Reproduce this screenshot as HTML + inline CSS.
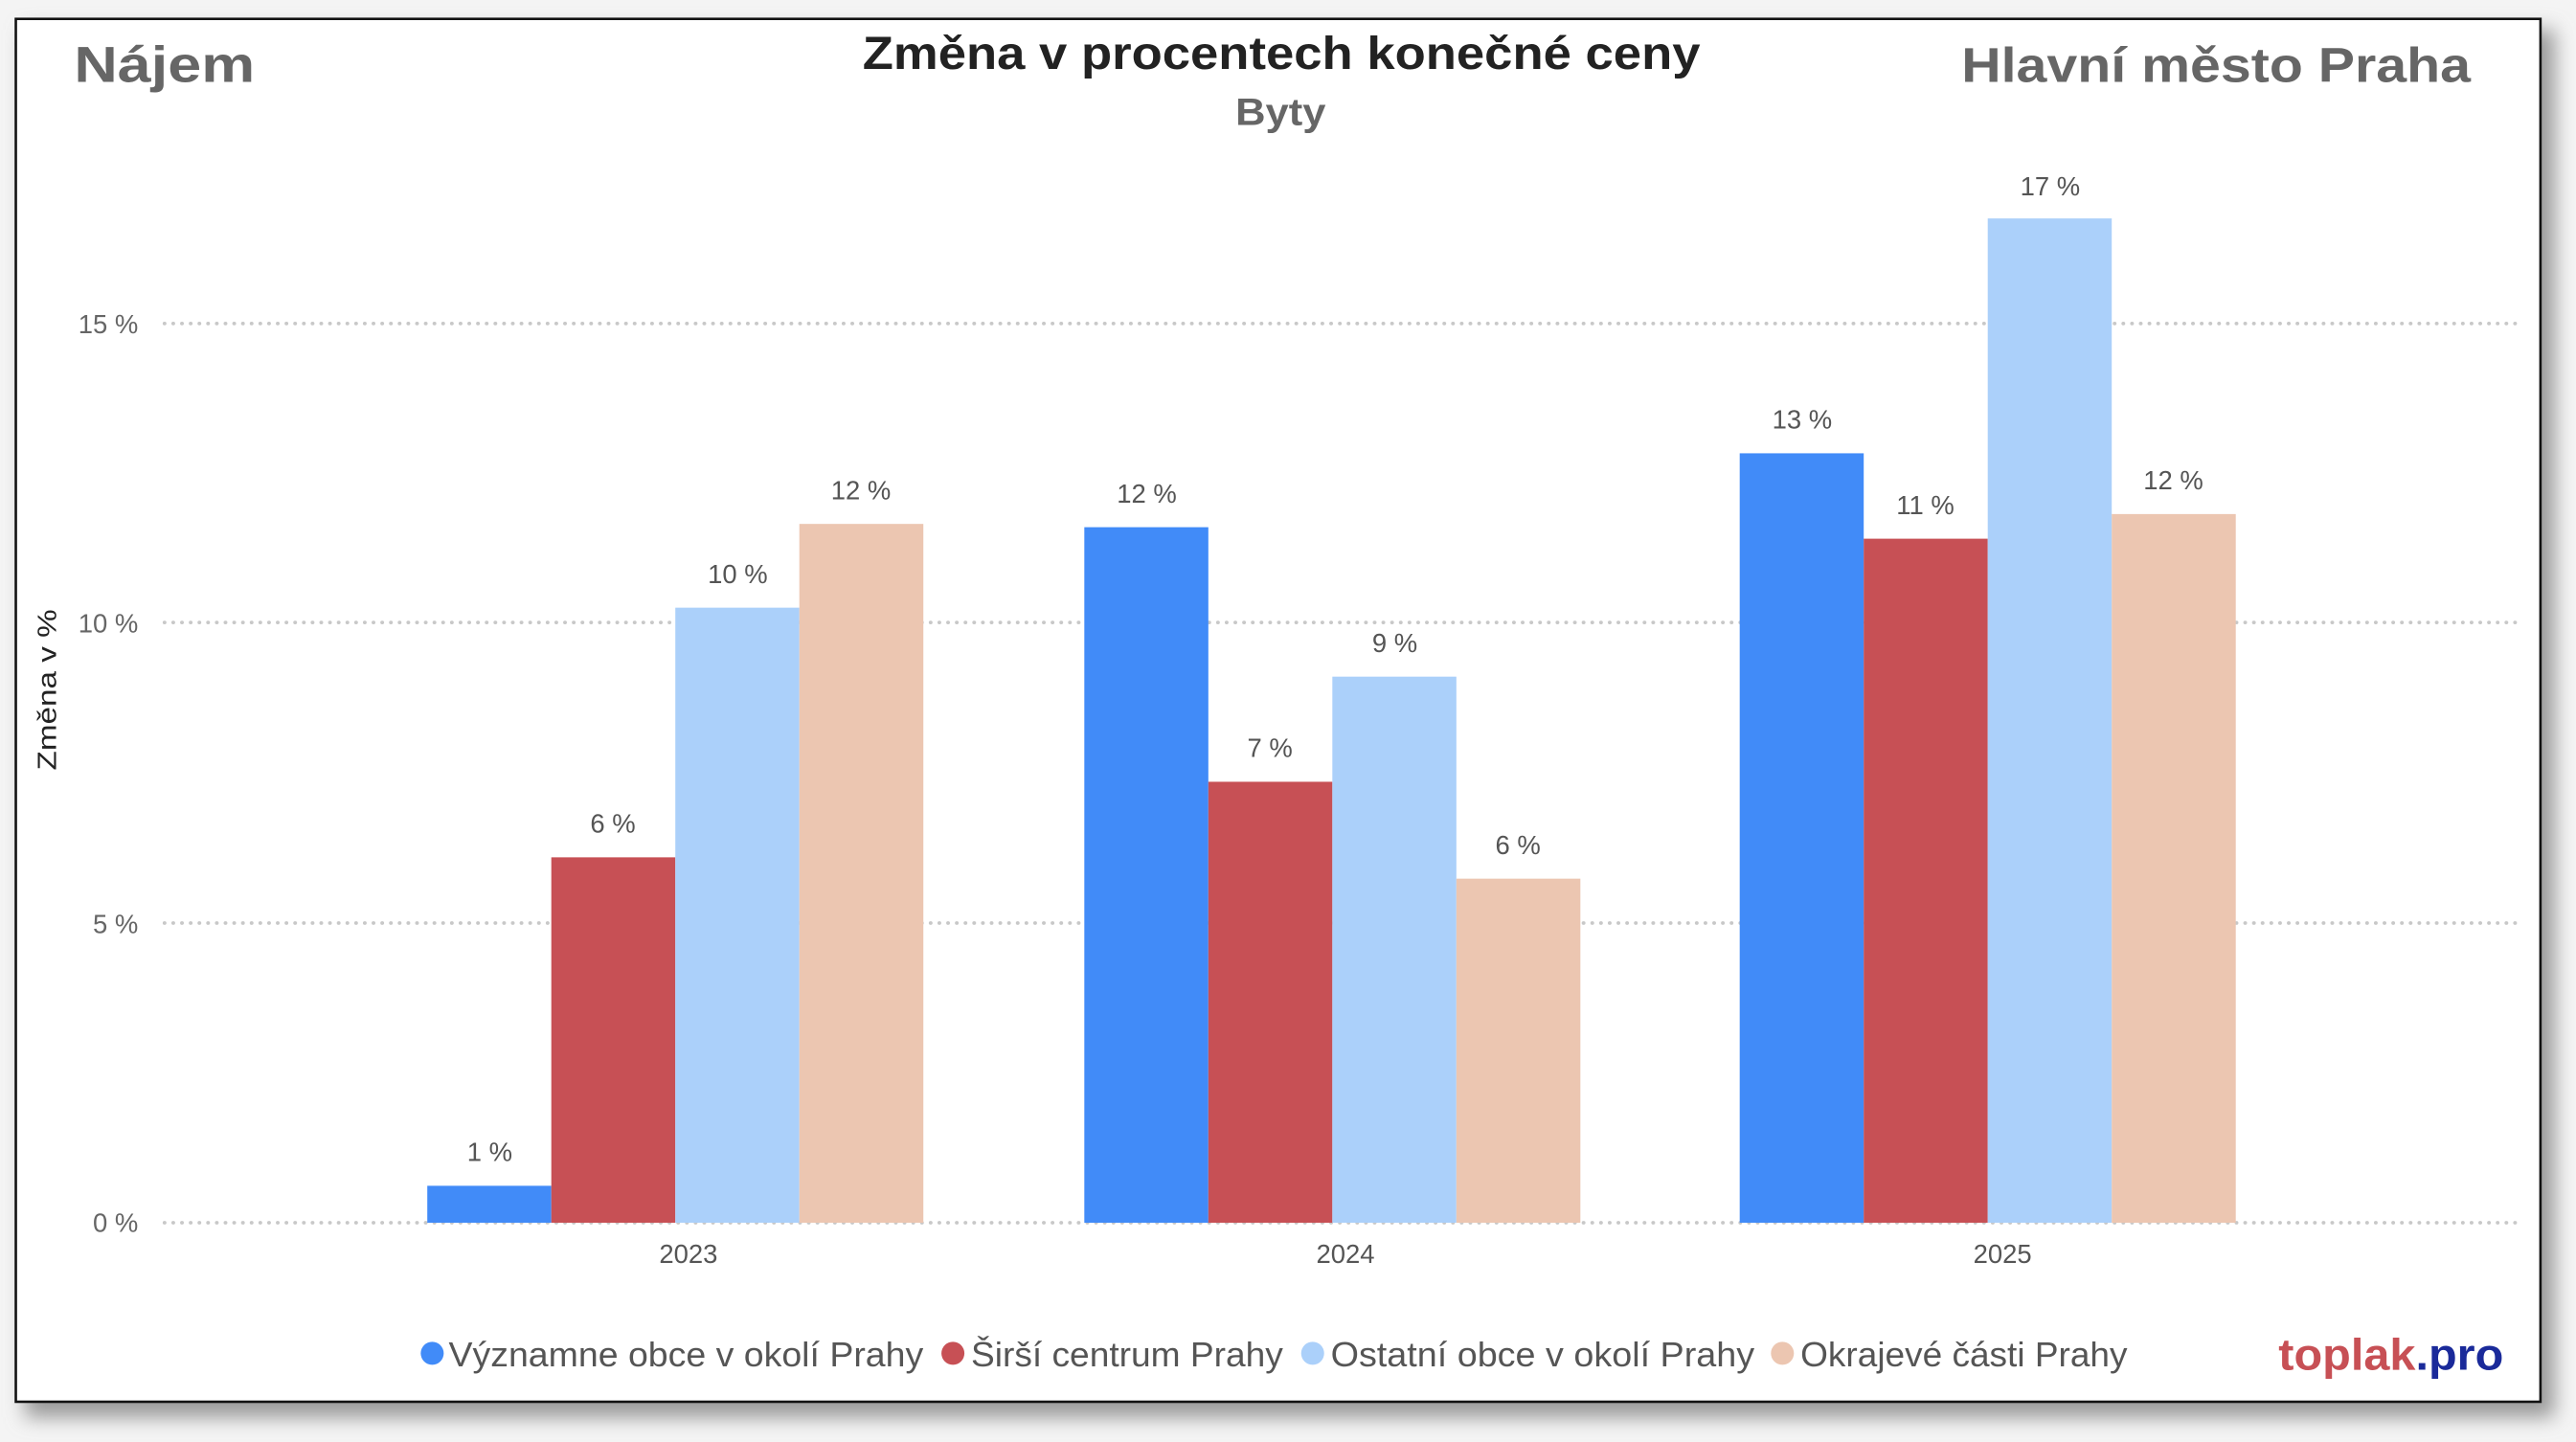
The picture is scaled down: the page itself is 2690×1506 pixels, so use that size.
<!DOCTYPE html>
<html><head><meta charset="utf-8"><style>
html,body{margin:0;padding:0;background:#f4f4f4;}
svg{display:block;}
text{font-family:"Liberation Sans",sans-serif;}
</style></head><body>
<svg width="2690" height="1506" viewBox="0 0 1568 878" xmlns="http://www.w3.org/2000/svg">
<defs><filter id="sh" x="-5%" y="-5%" width="115%" height="115%"><feGaussianBlur stdDeviation="6"/></filter></defs>
<rect x="0" y="0" width="1568" height="878" fill="#f4f4f4"/>
<rect x="15" y="18" width="1540" height="845" fill="#999" filter="url(#sh)"/>
<rect x="9.5" y="11.5" width="1537" height="842" fill="#fff" stroke="#111" stroke-width="1.5"/>
<g stroke="#c8c8c8" stroke-width="2.2" stroke-dasharray="0.1 5.2" stroke-linecap="round">
<line x1="100" y1="197" x2="1535" y2="197"/>
<line x1="100" y1="379" x2="1535" y2="379"/>
<line x1="100" y1="562" x2="1535" y2="562"/>
<line x1="100" y1="744.5" x2="1535" y2="744.5"/>
</g>
<g font-size="16" fill="#666" text-anchor="end">
<text x="84" y="203">15 %</text><text x="84" y="385">10 %</text><text x="84" y="568">5 %</text><text x="84" y="750">0 %</text>
</g>
<text transform="translate(34,420) rotate(-90)" font-size="16" fill="#222" text-anchor="middle" textLength="98" lengthAdjust="spacingAndGlyphs">Změna v %</text>
<g>
<rect x="260" y="722" width="75.5" height="22.5" fill="#418bf8"/>
<rect x="335.5" y="522" width="75.5" height="222.5" fill="#c75055"/>
<rect x="411" y="370" width="75.5" height="374.5" fill="#abd0fa"/>
<rect x="486.5" y="319" width="75.5" height="425.5" fill="#ecc6b1"/>
<rect x="660" y="321" width="75.5" height="423.5" fill="#418bf8"/>
<rect x="735.5" y="476" width="75.5" height="268.5" fill="#c75055"/>
<rect x="811" y="412" width="75.5" height="332.5" fill="#abd0fa"/>
<rect x="886.5" y="535" width="75.5" height="209.5" fill="#ecc6b1"/>
<rect x="1059" y="276" width="75.5" height="468.5" fill="#418bf8"/>
<rect x="1134.5" y="328" width="75.5" height="416.5" fill="#c75055"/>
<rect x="1210" y="133" width="75.5" height="611.5" fill="#abd0fa"/>
<rect x="1285.5" y="313" width="75.5" height="431.5" fill="#ecc6b1"/>
</g>
<g font-size="16" fill="#555" text-anchor="middle">
<text x="298" y="707">1 %</text><text x="373" y="507">6 %</text><text x="449" y="355">10 %</text><text x="524" y="304">12 %</text>
<text x="698" y="306">12 %</text><text x="773" y="461">7 %</text><text x="849" y="397">9 %</text><text x="924" y="520">6 %</text>
<text x="1097" y="261">13 %</text><text x="1172" y="313">11 %</text><text x="1248" y="119">17 %</text><text x="1323" y="298">12 %</text>
</g>
<g font-size="16" fill="#555" text-anchor="middle">
<text x="419" y="769">2023</text><text x="819" y="769">2024</text><text x="1219" y="769">2025</text>
</g>
<text x="525" y="42" font-size="28" font-weight="bold" fill="#222" textLength="510" lengthAdjust="spacingAndGlyphs">Změna v procentech konečné ceny</text>
<text x="752" y="76" font-size="23" font-weight="bold" fill="#666" textLength="55" lengthAdjust="spacingAndGlyphs">Byty</text>
<text x="45" y="50" font-size="31" font-weight="bold" fill="#666" textLength="110" lengthAdjust="spacingAndGlyphs">Nájem</text>
<text x="1194" y="50" font-size="30" font-weight="bold" fill="#666" textLength="310" lengthAdjust="spacingAndGlyphs">Hlavní město Praha</text>
<g font-size="21" fill="#555">
<circle cx="263" cy="824" r="7" fill="#418bf8"/><text x="273" y="832" textLength="289" lengthAdjust="spacingAndGlyphs">Významne obce v okolí Prahy</text>
<circle cx="580" cy="824" r="7" fill="#c75055"/><text x="591" y="832" textLength="190" lengthAdjust="spacingAndGlyphs">Širší centrum Prahy</text>
<circle cx="799" cy="824" r="7" fill="#abd0fa"/><text x="810" y="832" textLength="258" lengthAdjust="spacingAndGlyphs">Ostatní obce v okolí Prahy</text>
<circle cx="1085" cy="824" r="7" fill="#ecc6b1"/><text x="1096" y="832" textLength="199" lengthAdjust="spacingAndGlyphs">Okrajevé části Prahy</text>
</g>
<text x="1387" y="834" font-size="27" font-weight="bold" textLength="137" lengthAdjust="spacingAndGlyphs"><tspan fill="#c75055">toplak</tspan><tspan fill="#1a2a9a">.pro</tspan></text>
</svg>
</body></html>
